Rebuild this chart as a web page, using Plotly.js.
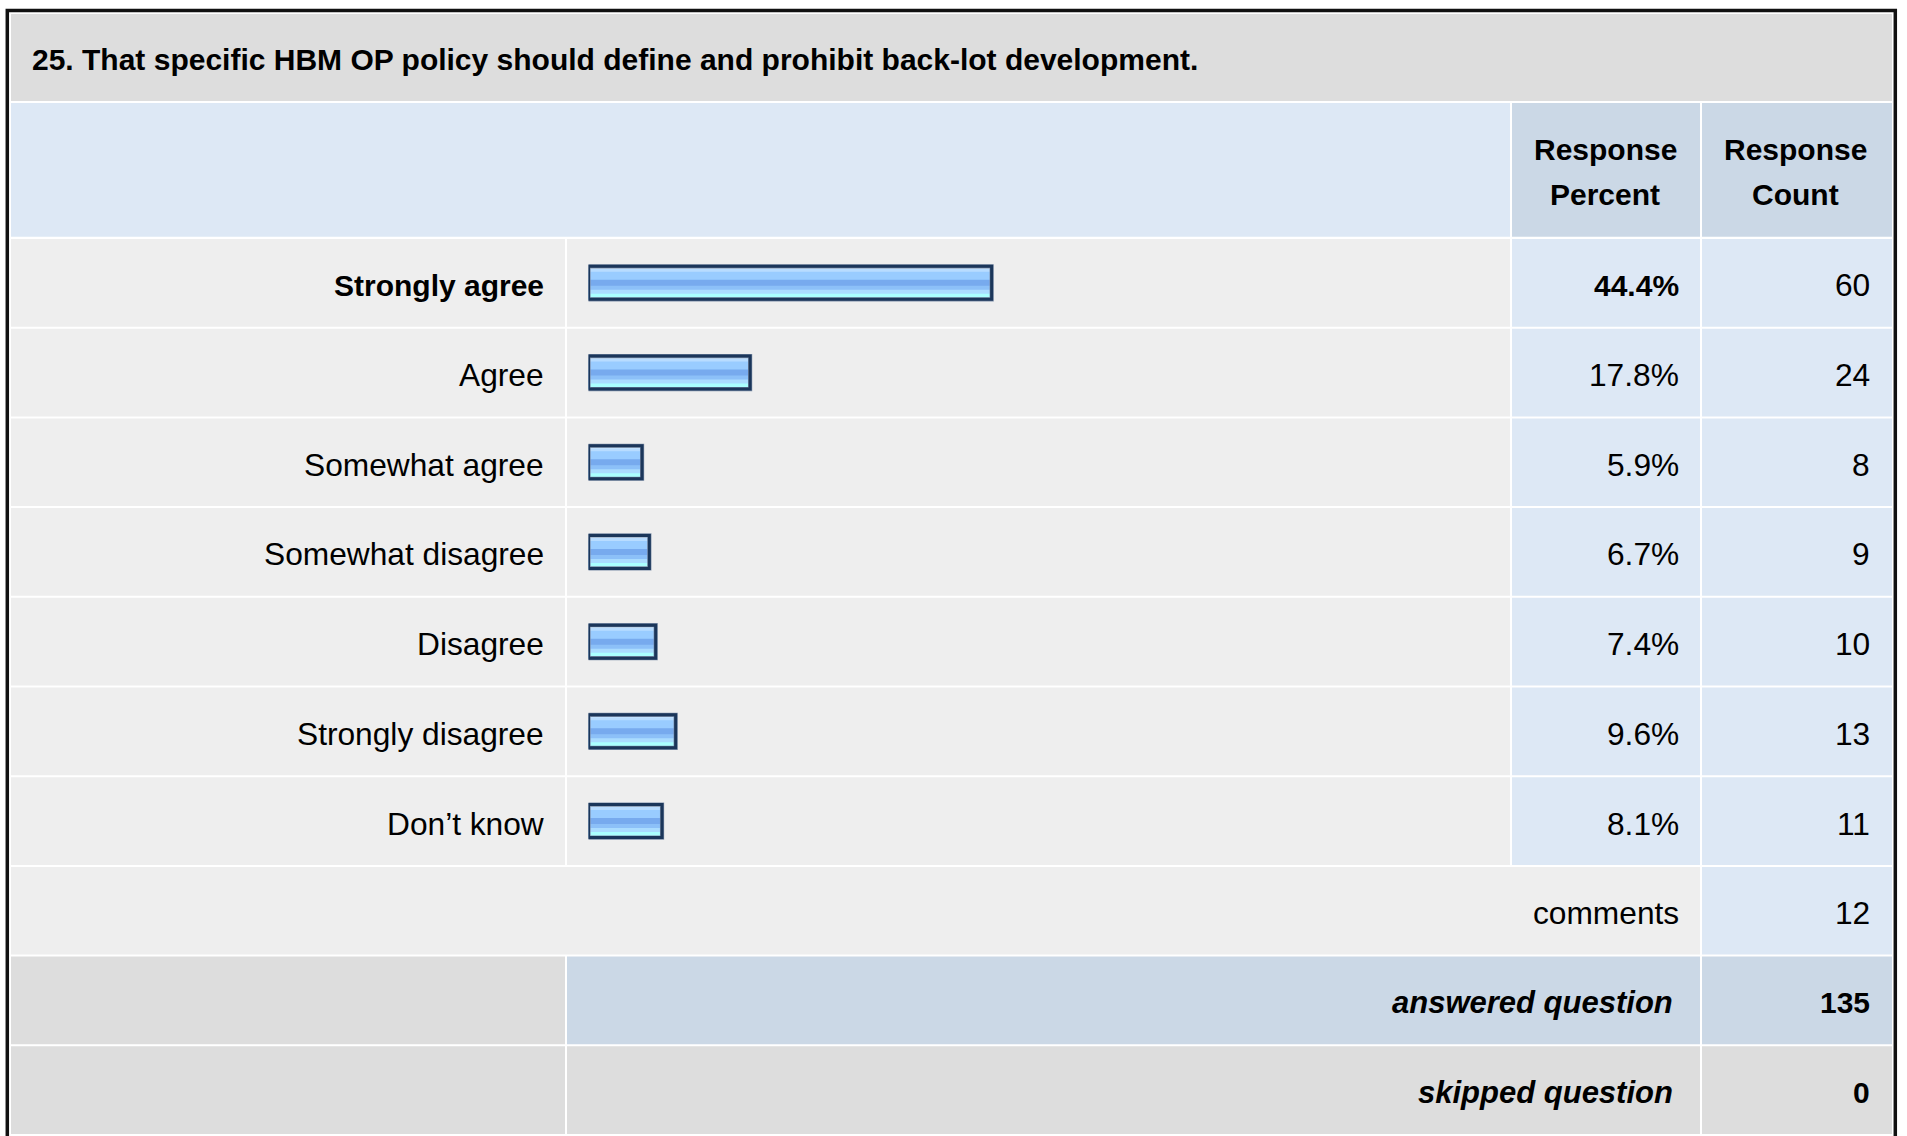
<!DOCTYPE html>
<html>
<head>
<meta charset="utf-8">
<script src="https://cdn.plot.ly/plotly-3.0.1.min.js"></script>
<style>
  html, body { margin: 0; padding: 0; background: #ffffff; }
  #chart { width: 1907px; height: 1136px; }
</style>
</head>
<body>
<div id="chart"></div>
<script>
// ---------------- DATA ----------------
const questionTitle = "25. That specific HBM OP policy should define and prohibit back-lot development.";
const categories = ["Strongly agree", "Agree", "Somewhat agree", "Somewhat disagree", "Disagree", "Strongly disagree", "Don\u2019t know"];
const responsePercent = [44.4, 17.8, 5.9, 6.7, 7.4, 9.6, 8.1];
const responseCount = [60, 24, 8, 9, 10, 13, 11];
const headerPercent = ["Response", "Percent"];
const headerCount = ["Response", "Count"];
const commentsLabel = "comments";
const commentsCount = 12;
const answeredLabel = "answered question";
const answeredCount = 135;
const skippedLabel = "skipped question";
const skippedCount = 0;

// ---------------- LAYOUT HELPERS ----------------
const W = 1907, H = 1136;
const px = x => x / W;
const py = y => 1 - y / H;
const FONT = "Liberation Sans, Arial, Helvetica, sans-serif";

const ROW0 = 239, PITCH = 89.7, FILL = 87.7;
const rowTop = i => ROW0 + PITCH * i;
const rowMid = i => rowTop(i) + FILL / 2;

const colL0 = 11, colL1 = 565, colB0 = 567, colB1 = 1510, colP0 = 1512, colP1 = 1700, colC0 = 1702, colC1 = 1892;

const C_TITLE = "#dddddd", C_HEAD = "#dde8f5", C_HEAD2 = "#cbd8e6", C_ROW = "#eeeeee", C_CELL = "#dde8f5", C_GREY = "#dddddd";

const shapes = [];
function rect(x0, y0, x1, y1, color) {
  shapes.push({type: "rect", xref: "paper", yref: "paper", x0: px(x0), x1: px(x1), y0: py(y1), y1: py(y0),
    fillcolor: color, line: {width: 0}, layer: "below"});
}
// title band
rect(colL0, 14, colC1, 101, C_TITLE);
// header
rect(colL0, 103, colB1, 236.7, C_HEAD);
rect(colP0, 103, colP1, 236.7, C_HEAD2);
rect(colC0, 103, colC1, 236.7, C_HEAD2);
// category rows
categories.forEach((c, i) => {
  const t = rowTop(i), b = t + FILL;
  rect(colL0, t, colL1, b, C_ROW);
  rect(colB0, t, colB1, b, C_ROW);
  rect(colP0, t, colP1, b, C_CELL);
  rect(colC0, t, colC1, b, C_CELL);
});
// comments row
const nC = categories.length;
rect(colL0, rowTop(nC), colP1, rowTop(nC) + FILL, C_ROW);
rect(colC0, rowTop(nC), colC1, rowTop(nC) + FILL, C_CELL);
// answered row
rect(colL0, rowTop(nC + 1), colL1, rowTop(nC + 1) + FILL, C_GREY);
rect(colB0, rowTop(nC + 1), colP1, rowTop(nC + 1) + FILL, C_HEAD2);
rect(colC0, rowTop(nC + 1), colC1, rowTop(nC + 1) + FILL, C_HEAD2);
// skipped row
rect(colL0, rowTop(nC + 2), colL1, 1134, C_GREY);
rect(colB0, rowTop(nC + 2), colP1, 1134, C_GREY);
rect(colC0, rowTop(nC + 2), colC1, 1134, C_GREY);
// outer border
shapes.push({type: "rect", xref: "paper", yref: "paper", x0: px(7.3), x1: px(1895.3), y0: py(1150), y1: py(10.5),
  fillcolor: "rgba(0,0,0,0)", line: {color: "#111111", width: 3.5}, layer: "above"});

// ---------------- ANNOTATIONS ----------------
const annotations = [];
function txt(text, x, y, anchor, size, opts) {
  opts = opts || {};
  annotations.push({text: text, xref: "paper", yref: "paper", x: px(x), y: py(y), xanchor: anchor, yanchor: "middle",
    showarrow: false, borderpad: 0, borderwidth: 0,
    font: {family: FONT, size: size, color: "#000000", weight: opts.bold ? "bold" : "normal", style: opts.italic ? "italic" : "normal"}});
}
const REG = 31.7, BOLD = 30, BI = 31, TOFF = 2.5;
txt(questionTitle, 32, 59.5, "left", BOLD, {bold: true});
txt(headerPercent[0], 1605, 149.5, "center", BOLD, {bold: true});
txt(headerPercent[1], 1605, 195, "center", BOLD, {bold: true});
txt(headerCount[0], 1795, 149.5, "center", BOLD, {bold: true});
txt(headerCount[1], 1795, 195, "center", BOLD, {bold: true});
const maxIdx = responsePercent.indexOf(Math.max.apply(null, responsePercent));
categories.forEach((c, i) => {
  const y = rowMid(i) + TOFF;
  const isMax = i === maxIdx;
  txt(c, 544, y, "right", isMax ? BOLD : REG, {bold: isMax});
  txt(responsePercent[i].toFixed(1) + "%", 1679, y, "right", isMax ? BOLD : REG, {bold: isMax});
  txt(String(responseCount[i]), 1870, y, "right", REG);
});
txt(commentsLabel, 1679, rowMid(nC) + TOFF, "right", REG);
txt(String(commentsCount), 1870, rowMid(nC) + TOFF, "right", REG);
txt(answeredLabel, 1673, rowMid(nC + 1) + TOFF, "right", BI, {bold: true, italic: true});
txt(String(answeredCount), 1870, rowMid(nC + 1) + TOFF, "right", BOLD, {bold: true});
txt(skippedLabel, 1673, rowMid(nC + 2) + TOFF, "right", BI, {bold: true, italic: true});
txt(String(skippedCount), 1870, rowMid(nC + 2) + TOFF, "right", BOLD, {bold: true});

// ---------------- BARS ----------------
const BAR_PX = 33;               // bar rect height in px
const unit = 1 / PITCH;          // y-units per px
const barTopOff = -BAR_PX / 2 * unit;
// stripe start (px from bar top) and colour, drawn top->bottom, each extends to bar bottom
const stripeStart = [0, 2.5, 5.5, 13.5, 19.5, 23.5, 27.5];
const stripeColor = ["#d6edff", "#b8dcff", "#99ccff", "#77aaee", "#8cc0f8", "#aadcff", "#aaffff"];
const traces = [];
stripeStart.forEach((s, j) => {
  traces.push({type: "bar", orientation: "h", x: responsePercent, y: categories,
    width: (BAR_PX - s) * unit, offset: barTopOff + s * unit,
    marker: {color: stripeColor[j], line: {width: 0}}, hoverinfo: "skip", showlegend: false});
});
traces.push({type: "bar", orientation: "h", x: responsePercent, y: categories,
  width: BAR_PX * unit, offset: barTopOff,
  marker: {color: "rgba(0,0,0,0)", line: {color: "#7d8ea8", width: 4.2}}, hoverinfo: "skip", showlegend: false});
traces.push({type: "bar", orientation: "h", x: responsePercent, y: categories,
  width: BAR_PX * unit, offset: barTopOff,
  marker: {color: "rgba(0,0,0,0)", line: {color: "#1b365a", width: 3}}, hoverinfo: "skip", showlegend: false});

const X0 = 588.5, PX_PER_PCT = 9.08;
const layout = {
  width: W, height: H,
  margin: {l: 0, r: 0, t: 0, b: 0, pad: 0},
  paper_bgcolor: "#ffffff", plot_bgcolor: "rgba(0,0,0,0)",
  barmode: "overlay", showlegend: false,
  xaxis: {domain: [px(X0), px(colB1)], range: [0, (colB1 - X0) / PX_PER_PCT], visible: false, fixedrange: true},
  yaxis: {domain: [py(rowTop(0) - 1 + PITCH * categories.length), py(rowTop(0) - 1)],
          type: "category", categoryorder: "array", categoryarray: categories,
          range: [categories.length - 0.5, -0.5], visible: false, fixedrange: true},
  shapes: shapes, annotations: annotations,
  font: {family: FONT}
};
Plotly.newPlot("chart", traces, layout, {staticPlot: true, displayModeBar: false});
</script>
</body>
</html>
